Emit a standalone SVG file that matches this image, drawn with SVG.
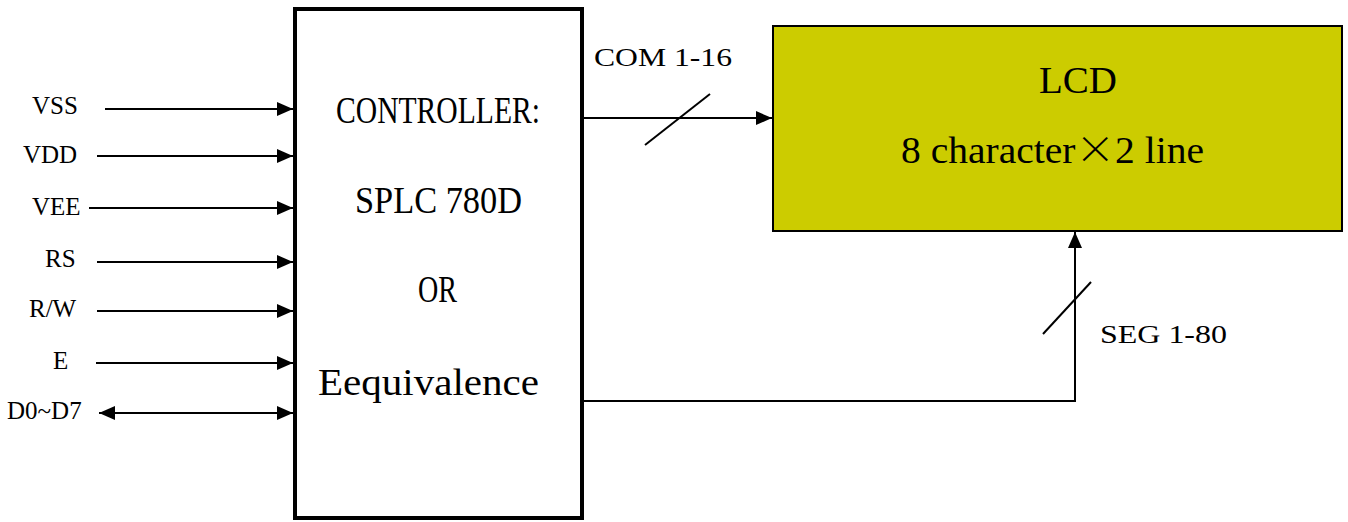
<svg xmlns="http://www.w3.org/2000/svg" width="1348" height="522" viewBox="0 0 1348 522">
<style>
.lbl{font-family:"Liberation Serif","Times New Roman",serif;font-size:25px;fill:#000}
.mono{font-family:"Liberation Serif","Times New Roman",serif;font-size:37px;fill:#000}
.big{font-family:"Liberation Serif","Times New Roman",serif;font-size:38px;fill:#000}
.ln{stroke:#000;stroke-width:2;fill:none}
</style>
<defs>
<marker id="ah" viewBox="0 0 16 14" refX="16" refY="7" markerWidth="16" markerHeight="14" markerUnits="userSpaceOnUse" orient="auto-start-reverse">
<path d="M0,0 L16,7 L0,14 Z" fill="#000"/>
</marker>
</defs>
<rect width="1348" height="522" fill="#fff"/>
<g id="controller">
<rect x="295" y="9" width="287" height="509" fill="#fff" stroke="#000" stroke-width="4"/>
<text class="mono" x="336" y="123" textLength="204" lengthAdjust="spacingAndGlyphs">CONTROLLER:</text>
<text class="mono" x="355" y="213" textLength="167" lengthAdjust="spacingAndGlyphs">SPLC 780D</text>
<text class="mono" x="418" y="302" textLength="39" lengthAdjust="spacingAndGlyphs">OR</text>
<text class="mono" x="318" y="395" textLength="221" lengthAdjust="spacingAndGlyphs">Eequivalence</text>
</g>
<g id="lcd">
<rect x="773" y="26" width="569" height="205" fill="#CCCC00" stroke="#000" stroke-width="2"/>
<text class="big" x="1039" y="93" textLength="78" lengthAdjust="spacingAndGlyphs">LCD</text>
<text class="big" x="901" y="163" textLength="303" lengthAdjust="spacingAndGlyphs">8 character<tspan font-family="'Noto Sans CJK SC',sans-serif" font-weight="300">×</tspan>2 line</text>
</g>
<g id="labels">
<text class="lbl" x="32" y="114">VSS</text>
<text class="lbl" x="23" y="163">VDD</text>
<text class="lbl" x="32" y="215">VEE</text>
<text class="lbl" x="45" y="267">RS</text>
<text class="lbl" x="29" y="317">R/W</text>
<text class="lbl" x="53" y="369">E</text>
<text class="lbl" x="7" y="419">D0~D7</text>
<text class="lbl" x="594" y="66" font-size="28" textLength="138" lengthAdjust="spacingAndGlyphs">COM 1-16</text>
<text class="lbl" x="1100" y="343" font-size="29" textLength="127" lengthAdjust="spacingAndGlyphs">SEG 1-80</text>
</g>
<g id="connectors">
<line class="ln" x1="105" y1="109" x2="293" y2="109" marker-end="url(#ah)"/>
<line class="ln" x1="97" y1="156" x2="293" y2="156" marker-end="url(#ah)"/>
<line class="ln" x1="89" y1="208" x2="293" y2="208" marker-end="url(#ah)"/>
<line class="ln" x1="97" y1="262" x2="293" y2="262" marker-end="url(#ah)"/>
<line class="ln" x1="97" y1="311" x2="293" y2="311" marker-end="url(#ah)"/>
<line class="ln" x1="96" y1="363" x2="293" y2="363" marker-end="url(#ah)"/>
<line class="ln" x1="99" y1="413" x2="293" y2="413" stroke-width="3" marker-start="url(#ah)" marker-end="url(#ah)"/>
<line class="ln" x1="584" y1="118" x2="772" y2="118" marker-end="url(#ah)"/>
<line class="ln" x1="645" y1="145" x2="710" y2="94"/>
<polyline class="ln" points="584,401 1075,401 1075,232" marker-end="url(#ah)"/>
<line class="ln" x1="1043" y1="334" x2="1091" y2="282"/>
</g>
</svg>
